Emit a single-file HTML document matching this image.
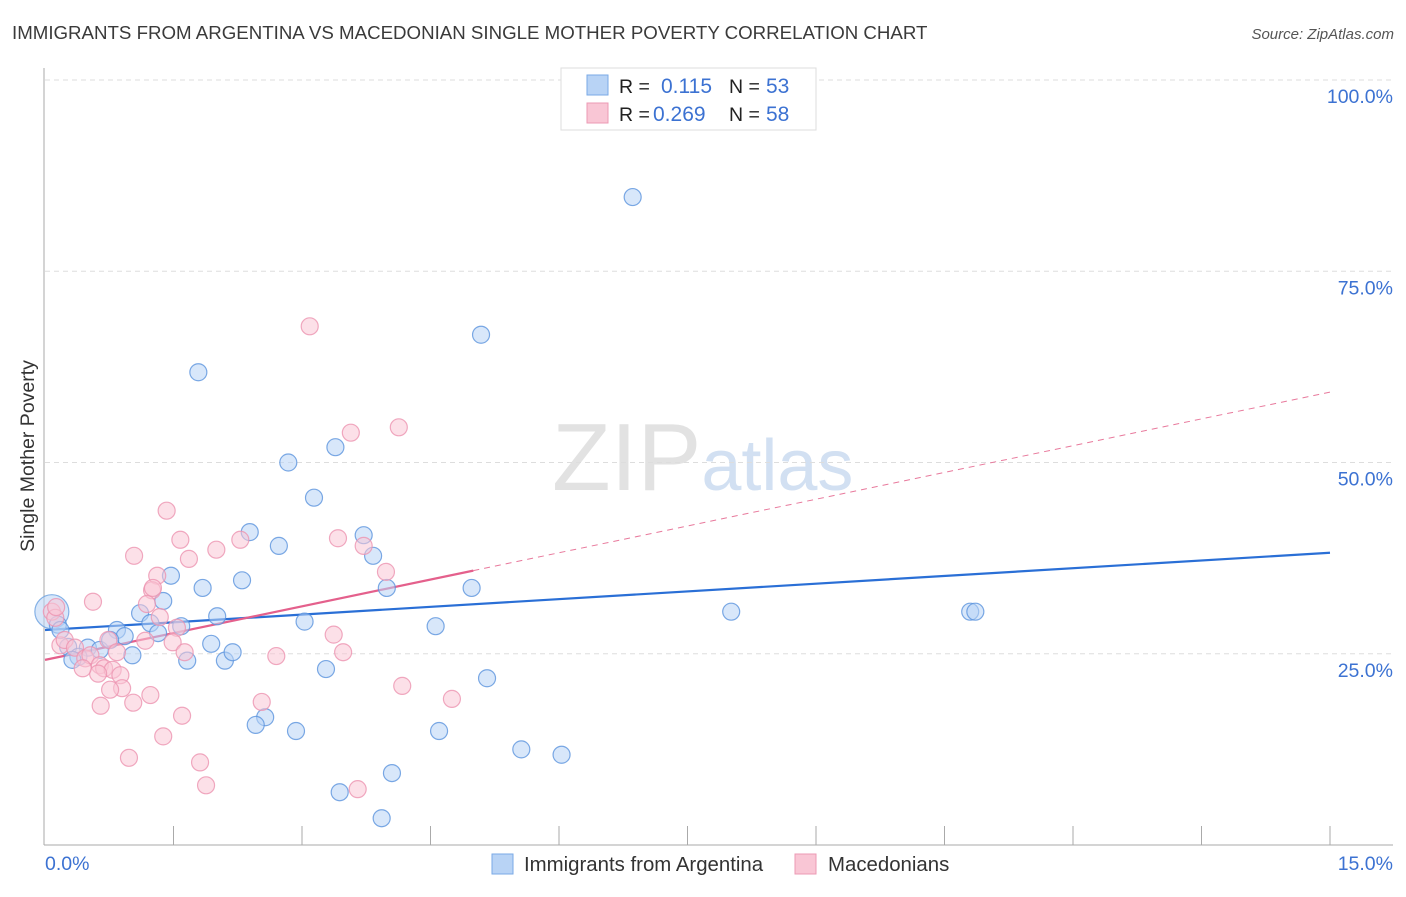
<!DOCTYPE html>
<html><head><meta charset="utf-8"><style>
body{margin:0;background:#fff;width:1406px;height:892px;overflow:hidden;font-family:"Liberation Sans",sans-serif}
svg text{font-family:"Liberation Sans",sans-serif}
</style></head><body>
<svg id="chart" width="1406" height="892" xmlns="http://www.w3.org/2000/svg">
<text x="12" y="39" font-size="18.7" fill="#3a3a3a">IMMIGRANTS FROM ARGENTINA VS MACEDONIAN SINGLE MOTHER POVERTY CORRELATION CHART</text>
<text x="1394" y="39" font-size="15" fill="#555" font-style="italic" text-anchor="end">Source: ZipAtlas.com</text>
<text x="552" y="490" font-size="96" fill="#e2e2e2" font-family="Liberation Serif">ZIP<tspan fill="#d2e0f2" font-family="Liberation Sans" font-size="72">atlas</tspan></text>
<g id="grid"></g>
<g id="axes"></g>
<text transform="translate(34,456) rotate(-90)" font-size="19.5" fill="#333" text-anchor="middle">Single Mother Poverty</text>
<g id="lines"></g>
<g id="pts"></g>
<g>
<rect x="561" y="68" width="255" height="62" fill="#fff" stroke="#ddd"/>
<rect x="587" y="75" width="21" height="20" fill="#b8d3f5" stroke="#7aaae6"/>
<rect x="587" y="103" width="21" height="20" fill="#f9c6d5" stroke="#ec9ab4"/>
<text x="619" y="93" font-size="19.5" fill="#222">R = </text><text x="661" y="93" font-size="21" fill="#3c72d2">0.115</text>
<text x="729" y="93" font-size="19.5" fill="#222">N = </text><text x="766" y="93" font-size="21" fill="#3c72d2">53</text>
<text x="619" y="121" font-size="19.5" fill="#222">R = </text><text x="653" y="121" font-size="21" fill="#3c72d2">0.269</text>
<text x="729" y="121" font-size="19.5" fill="#222">N = </text><text x="766" y="121" font-size="21" fill="#3c72d2">58</text>
</g>
<g>
<rect x="492" y="854" width="21" height="20" fill="#b8d3f5" stroke="#7aaae6"/>
<text x="524" y="871" font-size="20.4" fill="#333">Immigrants from Argentina</text>
<rect x="795" y="854" width="21" height="20" fill="#f9c6d5" stroke="#ec9ab4"/>
<text x="828" y="871" font-size="20.4" fill="#333">Macedonians</text>
</g>
</svg>
<script>
const blueX=[6.86,5.09,1.79,2.84,3.39,3.14,2.39,2.73,3.72,3.83,1.47,2.30,1.84,3.99,4.98,1.38,1.11,2.01,3.03,1.23,1.59,0.84,0.93,4.56,8.01,10.80,10.86,0.15,0.50,0.64,0.27,0.39,0.32,1.02,1.32,1.66,1.94,2.10,2.19,3.28,5.16,2.57,2.46,2.93,4.60,5.56,6.03,4.05,3.44,3.93,0.76,0.18];
const blueY=[84.7,66.7,61.8,50.0,52.0,45.4,40.9,39.1,40.5,37.8,35.2,34.6,33.6,33.6,33.6,31.9,30.3,29.9,29.2,29.0,28.6,28.1,27.3,28.6,30.5,30.5,30.5,28.8,25.8,25.5,25.9,24.6,24.2,24.8,27.7,24.1,26.3,24.1,25.2,23.0,21.8,16.7,15.7,14.9,14.9,12.5,11.8,9.4,6.9,3.5,26.8,28.1];
const pinkX=[3.09,4.13,3.57,1.42,1.58,3.42,2.00,3.72,1.04,1.68,1.31,3.98,1.25,0.56,1.19,1.34,1.54,1.49,1.17,3.37,3.48,1.63,2.70,0.74,0.84,0.08,0.12,0.18,0.23,0.35,0.47,0.53,0.64,0.69,0.79,0.88,0.62,0.44,0.90,0.76,1.23,1.03,0.65,2.53,4.17,4.75,1.60,1.38,0.98,1.81,1.88,3.65,1.26,2.28,0.13];
const pinkY=[67.8,54.6,53.9,43.7,39.9,40.1,38.6,39.1,37.8,37.4,35.2,35.7,33.3,31.8,31.5,29.8,28.4,26.5,26.7,27.5,25.2,25.2,24.7,26.8,25.2,30.5,29.7,26.1,26.8,25.8,24.4,24.8,23.5,23.1,22.9,22.2,22.4,23.1,20.5,20.3,19.6,18.6,18.2,18.7,20.8,19.1,16.9,14.2,11.4,10.8,7.8,7.3,33.6,39.9,31.1];
const bigX=[0.08], bigY=[30.5];
const yTicks=[25,50,75,100];
const yTickLabels=["25.0%","50.0%","75.0%","100.0%"];
const xTicks=[1.5,3,4.5,6,7.5,9,10.5,12,13.5,15];
const blueTrend=[28.1,38.2];
const pinkTrend=[24.2,59.2]; const pinkSolidEnd=5.0;
const NS="http://www.w3.org/2000/svg";
const sx=v=>45+v/15*1285, sy=v=>845-v*7.65;
function mk(tag,attrs,parent){const e=document.createElementNS(NS,tag);for(const k in attrs)e.setAttribute(k,attrs[k]);parent.appendChild(e);return e;}
const grid=document.getElementById('grid'),axes=document.getElementById('axes'),lines=document.getElementById('lines'),pts=document.getElementById('pts');
yTicks.forEach((t,i)=>{
 const l=mk('line',{x1:45,x2:1393,y1:sy(t),y2:sy(t),stroke:'#ddd','stroke-dasharray':'5,4'},grid);
 
 
 const tx=mk('text',{x:1393,y:sy(t)+23,'font-size':19.5,fill:'#3c72d2','text-anchor':'end'},axes);
 tx.textContent=yTickLabels[i];
 
 
});
mk('line',{x1:44,x2:44,y1:68,y2:845,stroke:'#aaa'},axes);
mk('line',{x1:44,x2:1393,y1:845,y2:845,stroke:'#aaa'},axes);
xTicks.forEach(t=>{const l=mk('line',{x1:sx(t),x2:sx(t),y1:826,y2:845,stroke:'#aaa'},axes);
 
 });
const x0=mk('text',{x:45,y:870,'font-size':19.5,fill:'#3c72d2'},axes);x0.textContent='0.0%';


const x1=mk('text',{x:1393,y:870,'font-size':19.5,fill:'#3c72d2','text-anchor':'end'},axes);x1.textContent='15.0%';


function dot(x,y,r,fill,stroke,name){const c=mk('circle',{cx:sx(x),cy:sy(y),r:r,fill:fill,'fill-opacity':0.55,stroke:stroke,'stroke-opacity':0.8,'stroke-width':1.2},pts);
 
 }
bigX.forEach((x,i)=>dot(x,bigY[i],17,'#b8d3f5','#6aa0e0','argentina-point'));
blueX.forEach((x,i)=>dot(x,blueY[i],8.5,'#b8d3f5','#5b93dd','argentina-point'));
pinkX.forEach((x,i)=>dot(x,pinkY[i],8.5,'#f9c6d5','#ec93b0','macedonian-point'));
const pAt=x=>pinkTrend[0]+(pinkTrend[1]-pinkTrend[0])*x/15;
const bl=mk('line',{x1:sx(0),y1:sy(blueTrend[0]),x2:sx(15),y2:sy(blueTrend[1]),stroke:'#2a6fd6','stroke-width':2.2},lines);


const pd=mk('line',{x1:sx(pinkSolidEnd),y1:sy(pAt(pinkSolidEnd)),x2:sx(15),y2:sy(pinkTrend[1]),stroke:'#e8799c','stroke-width':1,'stroke-dasharray':'6,5'},lines);


const ps=mk('line',{x1:sx(0),y1:sy(pinkTrend[0]),x2:sx(pinkSolidEnd),y2:sy(pAt(pinkSolidEnd)),stroke:'#e4608c','stroke-width':2.2},lines);


</script>
</body></html>
